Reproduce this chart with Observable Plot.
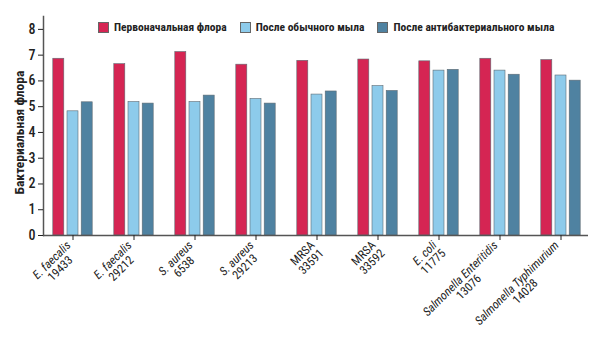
<!DOCTYPE html>
<html><head><meta charset="utf-8">
<script src="https://cdn.jsdelivr.net/npm/d3@7"></script>
<script src="https://cdn.jsdelivr.net/npm/@observablehq/plot@0.6"></script>
<style>
body{margin:0;background:#fff}
#wrap{position:relative;width:600px;height:337px;font-family:'Roboto Condensed','DejaVu Sans',sans-serif}
#legend{position:absolute;left:98px;top:20px;display:flex;align-items:center;font-weight:bold;font-size:11.5px;color:#222;white-space:nowrap}
#legend .sw{width:9px;height:9px;border:1px solid #666;margin-right:5px;box-sizing:content-box}
#legend .item{display:flex;align-items:center;margin-right:13px}
</style></head><body><div id="wrap"><div id="legend"></div></div>
<script>
const categories = ["E. faecalis|19433","E. faecalis|29212","S. aureus|6538","S. aureus|29213","MRSA|33591","MRSA|33592","E. coli|11775","Salmonella Enteritidis|13076","Salmonella Typhimurium|14028"];
const seriesNames = ["Первоначальная флора","После обычного мыла","После антибактериального мыла"];
const initialFlora = [6.86,6.65,7.12,6.63,6.78,6.83,6.76,6.86,6.81];
const regularSoap = [4.82,5.18,5.18,5.30,5.47,5.80,6.40,6.40,6.21];
const antibacterialSoap = [5.17,5.12,5.43,5.12,5.59,5.61,6.43,6.24,6.01];
const seriesColors = ["#D52553","#8DCBEB","#4F82A1"];
const yTicks = [0,1,2,3,4,5,6,7,8];
const yLabel = "Бактериальная флора";

const seriesValues = [initialFlora, regularSoap, antibacterialSoap];
const rows = [];
seriesNames.forEach((s,k)=>categories.forEach((c,i)=>rows.push({cat:c, series:s, value:seriesValues[k][i]})));

const offsets = [-14.2, 0, 14.2];
const font = "'Roboto Condensed','DejaVu Sans',sans-serif";

const chart = Plot.plot({
  width: 600, height: 337,
  marginLeft: 43, marginRight: 12, marginTop: 16, marginBottom: 102,
  style: {fontFamily: font, color: "#222", background: "#fff"},
  x: {domain: categories, range: [39.25, 592.75], padding: 0},
  y: {domain: [0, 8.5]},
  marks: [
    ...seriesNames.map((s,k)=>Plot.barY(rows.filter(r=>r.series===s), {
      x:"cat", y:"value", fill: seriesColors[k], stroke:"#5f6b73", strokeWidth:0.6,
      insetLeft:25, insetRight:25, dx: offsets[k]
    })),
    Plot.ruleY([0], {stroke:"#555", strokeWidth:1.5}),
    Plot.frame({anchor:"left", stroke:"#555", strokeWidth:1.5}),
    Plot.axisY({ticks: yTicks, tickSize: 5, tickPadding: 3, fontSize: 14, fontWeight: 500, tickFormat: d3.format("d"), label: null}),
    Plot.text([yLabel], {text: d => d, frameAnchor: "left", textAnchor: "middle", rotate: -90, dx: -24, dy: 6.5, fontSize: 13.5, fontWeight: "bold", fill: "#222"}),
    Plot.axisX({tickSize: 5, tickPadding: 7, tickRotate: -45, fontSize: 12, label: null,
      tickFormat: d => d.replace("|","\n")})
  ]
});
document.getElementById("wrap").appendChild(chart);

// legend
const leg = document.getElementById("legend");
seriesNames.forEach((s,k)=>{
  const it = document.createElement("div"); it.className="item";
  const sw = document.createElement("div"); sw.className="sw"; sw.style.background=seriesColors[k];
  const tx = document.createElement("span"); tx.textContent=s;
  it.appendChild(sw); it.appendChild(tx); leg.appendChild(it);
});

// center second label line under first, italicize species names
chart.querySelectorAll('g[aria-label="x-axis tick label"] text').forEach(t=>{
  const ts = t.querySelectorAll("tspan");
  if (ts.length < 2) return;
  if (!/^MRSA/.test(ts[0].textContent)) ts[0].style.fontStyle = "italic";
  const w1 = ts[0].getComputedTextLength();
  t.setAttribute("text-anchor","middle");
  t.style.textAnchor = "middle";
  ts.forEach(sp=>sp.setAttribute("x", -w1/2));
});
</script>
</body></html>
